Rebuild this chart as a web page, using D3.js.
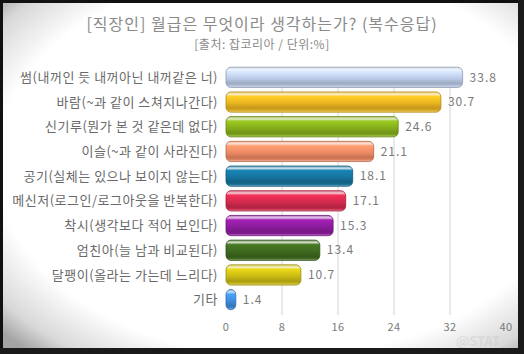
<html>
<head>
<meta charset="utf-8">
<style>
  body { margin: 0; background: #fff; }
  text { font-family: "Noto Sans CJK KR", "Noto Sans", sans-serif; }
</style>
<script src="https://d3js.org/d3.v7.min.js"></script>
</head>
<body>
<script>
const categories = [
  "썸(내꺼인 듯 내꺼아닌 내꺼같은 너)",
  "바람(~과 같이 스쳐지나간다)",
  "신기루(뭔가 본 것 같은데 없다)",
  "이슬(~과 같이 사라진다)",
  "공기(실체는 있으나 보이지 않는다)",
  "메신저(로그인/로그아웃을 반복한다)",
  "착시(생각보다 적어 보인다)",
  "엄친아(늘 남과 비교된다)",
  "달팽이(올라는 가는데 느리다)",
  "기타"
];
const values = [33.8, 30.7, 24.6, 21.1, 18.1, 17.1, 15.3, 13.4, 10.7, 1.4];
const barColors = ["#bccbe8", "#eab420", "#86b01c", "#ee8a64", "#16749e", "#d42a4e", "#8e1c9e", "#3e6a1e", "#ccbc14", "#3f8ee0"];
const ticks = [0, 8, 16, 24, 32, 40];
const title = "[직장인] 월급은 무엇이라 생각하는가? (복수응답)";
const subtitle = "[출처: 잡코리아 / 단위:%]";

const W = 524, H = 354;
const svg = d3.select("body").append("svg").attr("width", W).attr("height", H);
const defs = svg.append("defs");

// vignette background
const vg = defs.append("radialGradient").attr("id", "vig")
  .attr("cx", "54%").attr("cy", "46%").attr("r", "72%");
vg.append("stop").attr("offset", "0%").attr("stop-color", "#ffffff");
vg.append("stop").attr("offset", "76%").attr("stop-color", "#ffffff");
vg.append("stop").attr("offset", "92%").attr("stop-color", "#d8d8d8");
vg.append("stop").attr("offset", "100%").attr("stop-color", "#a4a4a4");
svg.append("rect").attr("width", W).attr("height", H).attr("fill", "url(#vig)");

// glossy gradients
barColors.forEach((c, i) => {
  const base = d3.color(c);
  const g = defs.append("linearGradient").attr("id", "g" + i)
    .attr("x1", 0).attr("y1", 0).attr("x2", 0).attr("y2", 1);
  const stops = [
    [0, d3.interpolateRgb(c, "#fff")(0.35)],
    [0.12, d3.interpolateRgb(c, "#fff")(0.75)],
    [0.22, base.brighter(0.4)],
    [0.55, base.formatHex()],
    [0.8, base.darker(0.5)],
    [0.9, base.darker(0.2)],
    [1, d3.interpolateRgb(c, "#fff")(0.45)]
  ];
  stops.forEach(s => g.append("stop").attr("offset", s[0]).attr("stop-color", s[1]));
});

const margin = {left: 226, right: 18, top: 65, bottom: 39};
const x = d3.scaleLinear().domain([0, 40]).range([margin.left, W - margin.right]);
const y = d3.scaleBand().domain(categories).range([margin.top, H - margin.bottom - 3]).paddingInner(0.18).paddingOuter(0.09);

// grid
svg.append("g").selectAll("line").data(ticks.slice(1, -1)).join("line")
  .attr("x1", d => x(d)).attr("x2", d => x(d))
  .attr("y1", margin.top + 2).attr("y2", H - margin.bottom)
  .attr("stroke", "#d4d4d4").attr("stroke-width", 1);

// watermark (faint, behind)
svg.append("text").attr("x", 478).attr("y", 346).attr("text-anchor", "middle")
  .attr("font-size", 13).attr("font-weight", 700).attr("fill", "#c4c4c4").attr("opacity", 0.35)
  .text("@STAT");

// titles
svg.append("text").attr("x", 262).attr("y", 30).attr("text-anchor", "middle")
  .attr("font-size", 16).attr("letter-spacing", 1).attr("fill", "#8a8a8a").text(title);
svg.append("text").attr("x", 262).attr("y", 49).attr("text-anchor", "middle")
  .attr("font-size", 12).attr("letter-spacing", 0.5).attr("fill", "#8a8a8a").text(subtitle);

// bars
svg.append("g").selectAll("rect").data(values).join("rect")
  .attr("x", x(0))
  .attr("y", (d, i) => y(categories[i]))
  .attr("width", d => x(d) - x(0))
  .attr("height", y.bandwidth())
  .attr("rx", 5).attr("ry", 5)
  .attr("fill", (d, i) => `url(#g${i})`)
  .attr("stroke", (d, i) => d3.color(barColors[i]).darker(0.8))
  .attr("stroke-width", 0.8);

// category labels
svg.append("g").selectAll("text").data(categories).join("text")
  .attr("x", x(0) - 8)
  .attr("y", d => y(d) + y.bandwidth() / 2)
  .attr("dy", "0.35em").attr("text-anchor", "end")
  .attr("font-size", 13).attr("letter-spacing", 0.5).attr("fill", "#6a6a6a").text(d => d);

// value labels
svg.append("g").selectAll("text").data(values).join("text")
  .attr("x", d => x(d) + 7)
  .attr("y", (d, i) => y(categories[i]) + y.bandwidth() / 2)
  .attr("dy", "0.35em")
  .attr("font-size", 12).attr("letter-spacing", 1).attr("fill", "#7a7a7a").text(d => d.toFixed(1));

// axis tick labels
svg.append("g").selectAll("text").data(ticks).join("text")
  .attr("x", d => x(d)).attr("y", 331).attr("text-anchor", "middle")
  .attr("font-size", 11).attr("letter-spacing", 0.5).attr("fill", "#7a7a7a").text(d => d);

// frame
svg.append("rect").attr("x", 1.5).attr("y", 1.5).attr("width", W - 3).attr("height", H - 3)
  .attr("fill", "none").attr("stroke", "#111").attr("stroke-width", 3);
svg.append("rect").attr("x", 518).attr("y", 0).attr("width", 6).attr("height", H).attr("fill", "#1a1a1a");
svg.append("rect").attr("x", 0).attr("y", 348).attr("width", W).attr("height", 6).attr("fill", "#1a1a1a");
</script>
</body>
</html>
